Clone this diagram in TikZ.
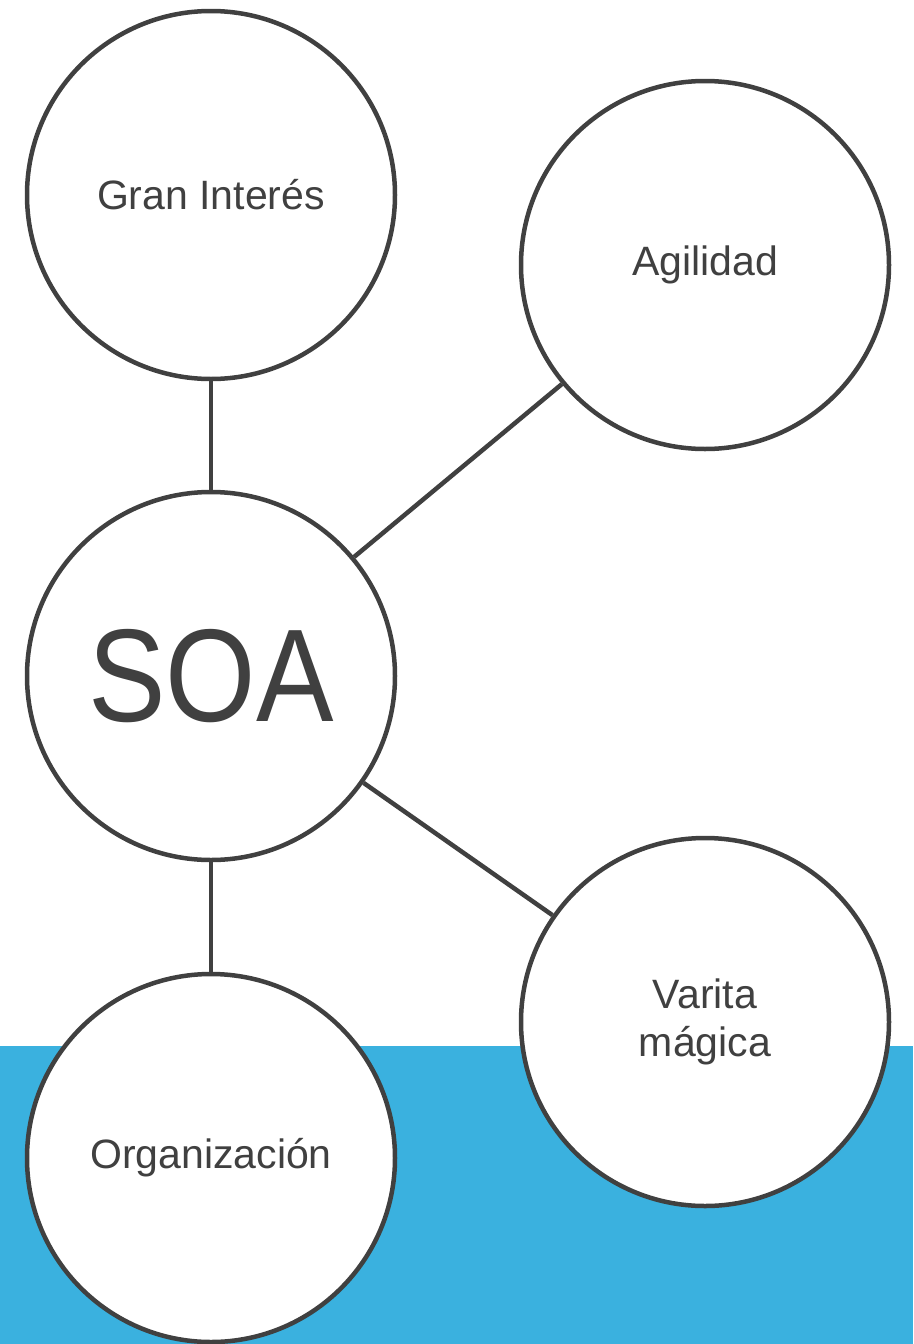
\documentclass[tikz,border=0pt]{standalone}
\usepackage{fontspec}
\setmainfont{Liberation Sans}
\definecolor{ink}{HTML}{404040}
\definecolor{band}{HTML}{3AB1DF}
\begin{document}
\begin{tikzpicture}[x=1pt,y=-1pt,
  bubble/.style={circle,draw=ink,line width=4.5pt,fill=white,minimum size=368pt,inner sep=0pt,
    text=ink,font=\fontsize{41}{48}\selectfont,align=center},
  link/.style={draw=ink,line width=4.5pt}]
\useasboundingbox (0,0) rectangle (913,1344);
\fill[band] (0,1046) rectangle (913,1344);
\node[bubble] (gran) at (211,195) {Gran Interés};
\node[bubble] (agil) at (705,265) {Agilidad};
\node[bubble,font=\fontsize{132}{140}\selectfont] (soa) at (211,676) {\scalebox{0.88}[1]{SOA}};
\node[bubble] (vari) at (705,1022) {Varita\\mágica};
\node[bubble] (org) at (211,1158) {Organización};
\draw[link] (gran) -- (soa);
\draw[link] (agil) -- (soa);
\draw[link] (soa) -- (vari);
\draw[link] (soa) -- (org);
\end{tikzpicture}
\end{document}
